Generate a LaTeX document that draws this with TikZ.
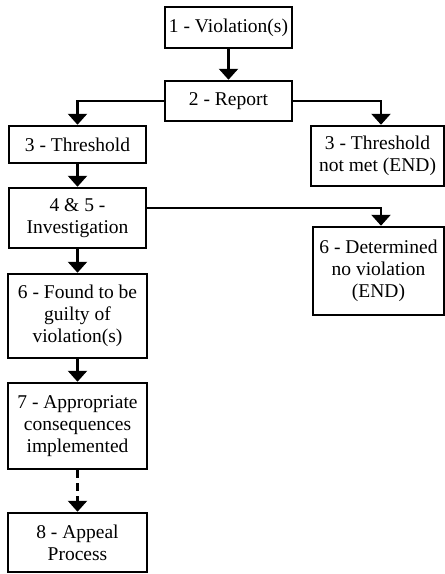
\documentclass[tikz,border=0pt]{standalone}
\usepackage{fontspec}
\setmainfont{Liberation Serif}
\usetikzlibrary{arrows.meta}
\begin{document}
\begin{tikzpicture}[x=1pt,y=-1pt,
  box/.style={draw, line width=2.5pt, align=center, inner sep=0pt,
    font=\fontsize{19.5}{22}\selectfont},
  conn/.style={line width=2.6pt, -{Triangle[width=19pt,length=11pt]}},
  dconn/.style={conn, dash pattern=on 8pt off 5pt}]
\useasboundingbox (0,0) rectangle (445,574);
\node[box, minimum width=127pt, minimum height=41pt] (b1) at (228.5,27.5) {1 - Violation(s)};
\node[box, minimum width=127pt, minimum height=40pt] (b2) at (228.5,101) {2 - Report};
\node[box, minimum width=137pt, minimum height=37pt] (b3) at (77.5,144.5) {3 - Threshold};
\node[box, minimum width=133pt, minimum height=60pt] (b3n) at (377.5,156) {3 - Threshold\\not met (END)};
\node[box, minimum width=137pt, minimum height=60pt] (b45) at (77.5,218) {4 \& 5 -\\Investigation};
\node[box, minimum width=131pt, minimum height=88pt] (b6n) at (378.5,271) {6 - Determined\\no violation\\(END)};
\node[box, minimum width=139pt, minimum height=84pt] (b6) at (77.5,316) {6 - Found to be\\guilty of\\violation(s)};
\node[box, minimum width=139pt, minimum height=86pt] (b7) at (77.5,426) {7 - Appropriate\\consequences\\implemented};
\node[box, minimum width=139pt, minimum height=59pt] (b8) at (77.5,542.5) {8 - Appeal\\Process};
\draw[conn] (b1) -- (b2);
\draw[conn] (b2.west) -| (b3);
\draw[conn] (b2.east) -| (b3n.north -| 381,0);
\draw[conn] (b3) -- (b45);
\draw[conn] (b45.east |- 0,208) -| (b6n.north -| 381,0);
\draw[conn] (b45) -- (b6);
\draw[conn] (b6) -- (b7);
\draw[dconn] (b7) -- (b8);
\end{tikzpicture}
\end{document}
